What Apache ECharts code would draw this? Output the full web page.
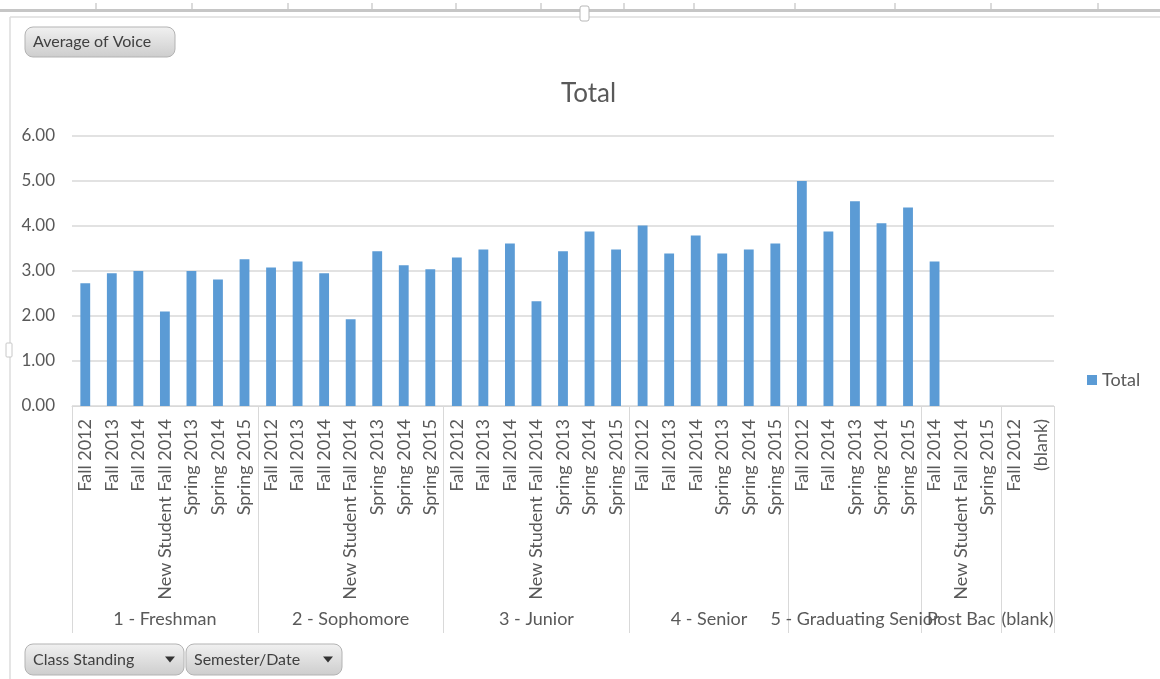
<!DOCTYPE html>
<html>
<head>
<meta charset="utf-8">
<script src="https://cdn.jsdelivr.net/npm/echarts@6/dist/echarts.min.js"></script>
<style>
  html, body { margin: 0; padding: 0; background: #ffffff; }
  #chart { width: 1160px; height: 679px; }
</style>
</head>
<body>
<div id="chart"></div>
<script>
// Average of Voice by class standing and semester
const groupNames = ['1 - Freshman', '2 - Sophomore', '3 - Junior', '4 - Senior', '5 - Graduating Senior', 'Post Bac', '(blank)'];

const freshmanTerms = ['Fall 2012', 'Fall 2013', 'Fall 2014', 'New Student Fall 2014', 'Spring 2013', 'Spring 2014', 'Spring 2015'];
const freshmanValues = [2.73, 2.95, 3.00, 2.10, 3.00, 2.81, 3.26];

const sophomoreTerms = ['Fall 2012', 'Fall 2013', 'Fall 2014', 'New Student Fall 2014', 'Spring 2013', 'Spring 2014', 'Spring 2015'];
const sophomoreValues = [3.08, 3.21, 2.95, 1.93, 3.44, 3.13, 3.04];

const juniorTerms = ['Fall 2012', 'Fall 2013', 'Fall 2014', 'New Student Fall 2014', 'Spring 2013', 'Spring 2014', 'Spring 2015'];
const juniorValues = [3.30, 3.48, 3.61, 2.33, 3.44, 3.88, 3.48];

const seniorTerms = ['Fall 2012', 'Fall 2013', 'Fall 2014', 'Spring 2013', 'Spring 2014', 'Spring 2015'];
const seniorValues = [4.01, 3.39, 3.79, 3.39, 3.48, 3.61];

const gradSeniorTerms = ['Fall 2012', 'Fall 2014', 'Spring 2013', 'Spring 2014', 'Spring 2015'];
const gradSeniorValues = [5.00, 3.88, 4.55, 4.06, 4.41];

const postBacTerms = ['Fall 2014', 'New Student Fall 2014', 'Spring 2015'];
const postBacValues = [3.21, null, null];

const blankTerms = ['Fall 2012', '(blank)'];
const blankValues = [null, null];

const yTicks = [0, 1, 2, 3, 4, 5, 6];

// Assemble the flat category list and the group spans
const termGroups = [freshmanTerms, sophomoreTerms, juniorTerms, seniorTerms, gradSeniorTerms, postBacTerms, blankTerms];
const valueGroups = [freshmanValues, sophomoreValues, juniorValues, seniorValues, gradSeniorValues, postBacValues, blankValues];
const categories = [].concat(...termGroups);
const values = [].concat(...valueGroups);

const bounds = [0];
termGroups.forEach(t => bounds.push(bounds[bounds.length - 1] + t.length));
const centers = groupNames.map((_, i) => (bounds[i] + bounds[i + 1]) / 2);

const FONT = 'Lato, "Open Sans", sans-serif';
const TXT = '#595959';
const GRID = '#d9d9d9';
const BLUE = '#5b9bd5';

const chart = echarts.init(document.getElementById('chart'), null, { renderer: 'canvas' });

function pivotButton(x, y, w, h, label, withArrow) {
  const children = [
    {
      type: 'rect',
      shape: { x: x, y: y, width: w, height: h, r: 8 },
      style: {
        fill: { type: 'linear', x: 0, y: 0, x2: 0, y2: 1,
          colorStops: [{ offset: 0, color: '#f1f1f1' }, { offset: 1, color: '#cdcdcd' }] },
        stroke: '#b3b3b3', lineWidth: 1
      }
    },
    {
      type: 'text',
      x: x + 8, y: y + h / 2,
      style: { text: label, fill: '#404040', font: '16px ' + FONT, textVerticalAlign: 'middle' }
    }
  ];
  if (withArrow) {
    const ax = x + w - 14, ay = y + h / 2;
    children.push({
      type: 'polygon',
      shape: { points: [[ax - 5, ay - 3], [ax + 5, ay - 3], [ax, ay + 3]] },
      style: { fill: '#333333' }
    });
  }
  return { type: 'group', children: children };
}

// Sheet frame around the chart object
const sheetTicks = [96, 192, 288, 372, 456, 541, 624, 694, 795, 895, 991, 1098];
const frame = [
  { type: 'rect', shape: { x: 0, y: 9, width: 1160, height: 3 }, style: { fill: '#c6c6c6' } },
  { type: 'line', shape: { x1: 10, y1: 17, x2: 1160, y2: 17 }, style: { stroke: '#dcdcdc', lineWidth: 1.5 } },
  { type: 'line', shape: { x1: 10, y1: 17, x2: 10, y2: 679 }, style: { stroke: '#dcdcdc', lineWidth: 1.5 } },
  { type: 'rect', shape: { x: 580, y: 6, width: 9, height: 15, r: 2 }, style: { fill: '#ffffff', stroke: '#b8b8b8', lineWidth: 1 } },
  { type: 'rect', shape: { x: 6, y: 343, width: 6, height: 14, r: 1 }, style: { fill: '#ffffff', stroke: '#c8c8c8', lineWidth: 1 } }
].concat(sheetTicks.map(x => ({
  type: 'line', shape: { x1: x, y1: 3, x2: x, y2: 9 }, style: { stroke: '#cfcfcf', lineWidth: 1.5 }
})));

const option = {
  backgroundColor: '#ffffff',
  animation: false,
  textStyle: { fontFamily: FONT },
  title: {
    text: 'Total',
    left: 556, top: 76,
    textStyle: { fontFamily: FONT, fontSize: 26, fontWeight: 'normal', color: TXT }
  },
  legend: {
    data: ['Total'],
    orient: 'vertical',
    left: 1082, top: 366,
    icon: 'rect', itemWidth: 10, itemHeight: 10, itemGap: 4,
    textStyle: { fontFamily: FONT, fontSize: 18, color: TXT, padding: [0, 0, 0, 0] }
  },
  grid: { left: 72, right: 106, top: 136, bottom: 273, containLabel: false },
  xAxis: [
    {
      type: 'category',
      data: categories,
      position: 'bottom',
      axisLine: { show: true, lineStyle: { color: GRID, width: 1 } },
      axisTick: { show: false },
      axisLabel: {
        interval: 0, rotate: 90, margin: 13,
        fontFamily: FONT, fontSize: 18, color: TXT
      },
      splitLine: { show: false }
    },
    {
      type: 'value',
      min: 0, max: bounds[bounds.length - 1],
      position: 'bottom',
      axisLine: { show: false },
      splitLine: { show: false },
      axisTick: {
        show: true, length: 227, customValues: bounds,
        lineStyle: { color: GRID, width: 1 }
      },
      axisLabel: {
        show: true, customValues: centers, margin: 204,
        fontFamily: FONT, fontSize: 18, color: TXT,
        formatter: v => groupNames[centers.indexOf(v)] || ''
      }
    }
  ],
  yAxis: {
    type: 'value',
    min: yTicks[0], max: yTicks[yTicks.length - 1], interval: 1,
    axisLine: { show: false },
    axisTick: { show: false },
    axisLabel: {
      margin: 17, fontFamily: FONT, fontSize: 17, color: TXT,
      formatter: v => v.toFixed(2)
    },
    splitLine: { lineStyle: { color: GRID, width: 1.5 } }
  },
  series: [{
    name: 'Total',
    type: 'bar',
    xAxisIndex: 0,
    data: values,
    barWidth: '37%',
    itemStyle: { color: BLUE }
  }],
  graphic: frame.concat([
    pivotButton(25, 27, 150, 30, 'Average of Voice', false),
    pivotButton(25, 644, 159, 31, 'Class Standing', true),
    pivotButton(186, 644, 156, 31, 'Semester/Date', true)
  ])
};

chart.setOption(option);
</script>
</body>
</html>
